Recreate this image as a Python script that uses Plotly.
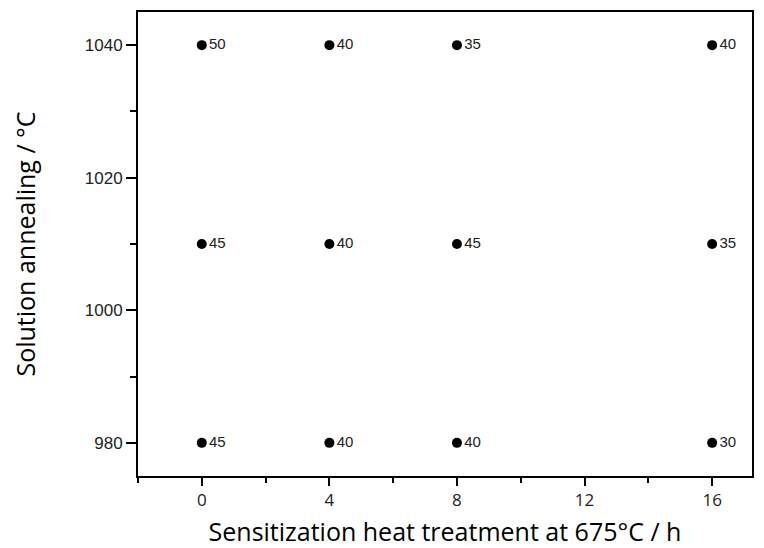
import plotly.graph_objects as go

x_hours = [0, 4, 8, 16]
y_1040 = [50, 40, 35, 40]
y_1010 = [45, 40, 45, 35]
y_980 = [45, 40, 40, 30]
temps = [1040, 1010, 980]
x_ticks = [0, 4, 8, 12, 16]
y_ticks = [980, 1000, 1020, 1040]

values = [y_1040, y_1010, y_980]
xs, ys, labels = [], [], []
for t, row in zip(temps, values):
    for xv, v in zip(x_hours, row):
        xs.append(xv)
        ys.append(t)
        labels.append(str(v))

fig = go.Figure()
fig.add_trace(go.Scatter(
    x=xs, y=ys, mode="markers+text", text=labels,
    textposition="middle right",
    textfont=dict(family="Liberation Sans, Arial", size=15, color="#222"),
    marker=dict(size=10, color="black"),
    showlegend=False, cliponaxis=False,
))

fig.update_layout(
    width=764, height=548,
    margin=dict(l=138, r=12, t=12, b=72, autoexpand=False),
    plot_bgcolor="white", paper_bgcolor="white",
    xaxis=dict(
        range=[-2, 17.25], tickvals=x_ticks, ticks="outside", ticklen=8, tickwidth=1.5,
        tickcolor="black", showline=True, linecolor="black", linewidth=2, mirror=True,
        showgrid=False, zeroline=False, automargin=False,
        tickfont=dict(family="Open Sans", size=17, color="#222"),
        minor=dict(dtick=2, tick0=0, ticks="outside", ticklen=5, tickwidth=1.5, tickcolor="black", showgrid=False),
        title=dict(text="Sensitization heat treatment at 675°C / h",
                   font=dict(family="Open Sans", size=25, color="black"), standoff=20),
    ),
    yaxis=dict(
        range=[975, 1045], tickvals=y_ticks, ticks="outside", ticklen=10, tickwidth=1.5,
        tickcolor="black", showline=True, linecolor="black", linewidth=2, mirror=True,
        showgrid=False, zeroline=False, automargin=False,
        tickfont=dict(family="Liberation Sans, Arial", size=17, color="#222"),
        minor=dict(dtick=10, tick0=980, ticks="outside", ticklen=6, tickwidth=1.5, tickcolor="black", showgrid=False),
        title=dict(text="Solution annealing / °C",
                   font=dict(family="Open Sans", size=25, color="black"), standoff=42),
    ),
)

fig.write_html("out.html")
